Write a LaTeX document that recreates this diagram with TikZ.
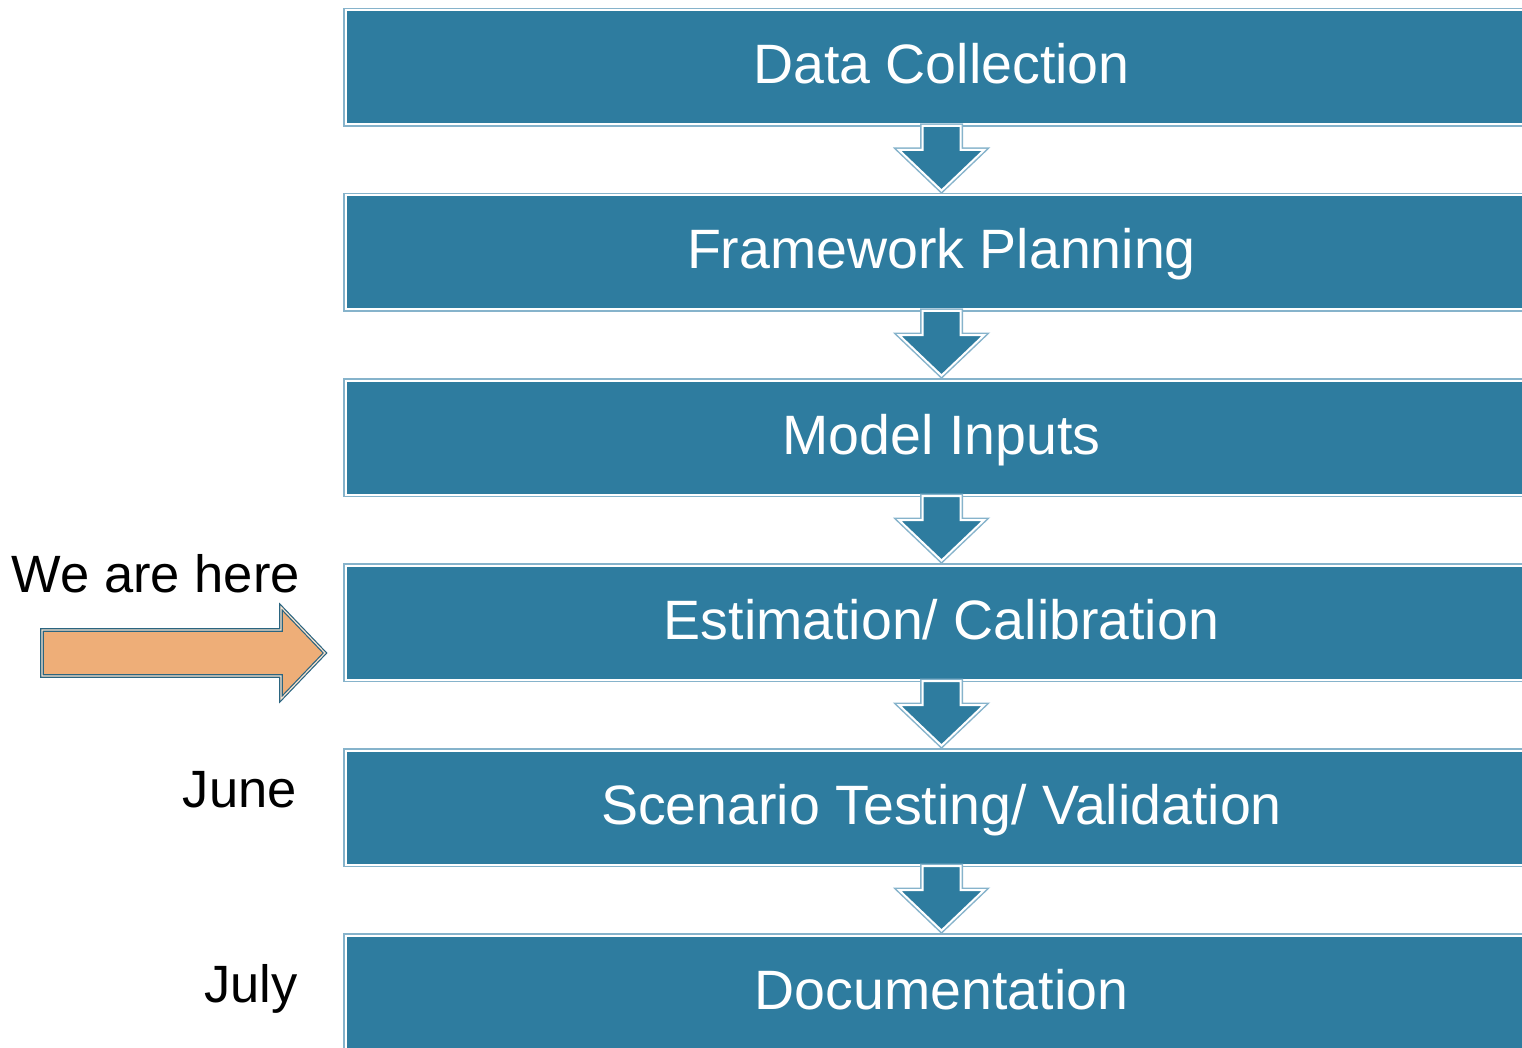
\documentclass[tikz,border=0pt]{standalone}
\usepackage{fontspec}
\setmainfont{Liberation Sans}
\usetikzlibrary{arrows}

\definecolor{boxblue}{HTML}{2E7C9F}
\definecolor{boxline}{HTML}{86B3CB}
\definecolor{herefill}{HTML}{EEAE78}
\definecolor{hereline}{HTML}{2B6580}
\definecolor{hereinner}{HTML}{F8E2CE}

\newcommand{\flowdown}[1]{%
	\draw[downarrow, shift={(#1.south)}] (-19,0.5) -- (19,0.5) -- (19,24.5) -- (42.5,24.5) -- (0,65) -- (-42.5,24.5) -- (-19,24.5) -- cycle;}

\begin{document}
\begin{tikzpicture}[x=1pt,y=-1pt,
	stage/.style={rectangle, fill=boxblue, draw=white, line width=2pt, preaction={draw=boxline, line width=5pt}, minimum width=1192pt, minimum height=114pt, inner sep=0pt, text=white, font=\fontsize{55.5}{60}\selectfont, text height=45pt, text depth=12pt},
	downarrow/.style={fill=boxblue, draw=white, line width=2pt, preaction={draw=boxline, line width=5pt}},
	side/.style={anchor=base east, inner sep=0pt, font=\fontsize{52.5}{60}\selectfont}]
	\clip (0,0) rectangle (1522,1048);

	\draw[] (941.5, 67.5) node[stage] (collect) {Data Collection};
	\draw[] (941.5, 252.5) node[stage] (frame) {Framework Planning};
	\draw[] (941.5, 437.5) node[stage] (inputs) {Model Inputs};
	\draw[] (941.5, 622.5) node[stage] (estim) {Estimation/ Calibration};
	\draw[] (941.5, 807.5) node[stage] (scen) {Scenario Testing/ Validation};
	\draw[] (941.5, 992.5) node[stage] (docs) {Documentation};

	\foreach \s in {collect,frame,inputs,estim,scen}
		\flowdown{\s};

	\draw[] (300, 592) node[side] (here) {We are here};
	\draw[] (297, 807) node[side] (june) {June};
	\draw[] (298, 1002) node[side] (july) {July};

	\draw[fill=herefill, draw=hereline, double=hereinner, line width=1.2pt, double distance=1.2pt] (42,630) -- (281,630) -- (281,607) -- (325,653) -- (281,699) -- (281,676) -- (42,676) -- cycle;
\end{tikzpicture}
\end{document}
